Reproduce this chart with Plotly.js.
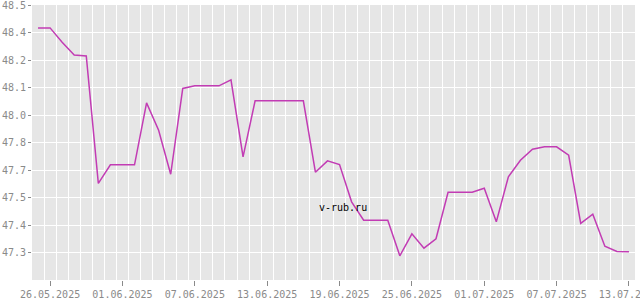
<!DOCTYPE html>
<html>
<head>
<meta charset="utf-8">
<script src="https://cdn.plot.ly/plotly-3.0.1.min.js"></script>
<style>
html,body{margin:0;padding:0;background:#fff;}
#chart{width:640px;height:300px;}
</style>
</head>
<body>
<div id="chart"></div>
<script>
// ---- data ----
var dates = [
  '2025-05-25','2025-05-26','2025-05-27','2025-05-28','2025-05-29','2025-05-30','2025-05-31',
  '2025-06-01','2025-06-02','2025-06-03','2025-06-04','2025-06-05','2025-06-06','2025-06-07',
  '2025-06-08','2025-06-09','2025-06-10','2025-06-11','2025-06-12','2025-06-13','2025-06-14',
  '2025-06-15','2025-06-16','2025-06-17','2025-06-18','2025-06-19','2025-06-20','2025-06-21',
  '2025-06-22','2025-06-23','2025-06-24','2025-06-25','2025-06-26','2025-06-27','2025-06-28',
  '2025-06-29','2025-06-30','2025-07-01','2025-07-02','2025-07-03','2025-07-04','2025-07-05',
  '2025-07-06','2025-07-07','2025-07-08','2025-07-09','2025-07-10','2025-07-11','2025-07-12',
  '2025-07-13'
];
var rates = [
  48.386, 48.386, 48.314, 48.250, 48.246, 47.608, 47.701,
  47.701, 47.701, 48.011, 47.874, 47.654, 48.083, 48.096,
  48.096, 48.096, 48.126, 47.741, 48.021, 48.021, 48.021,
  48.021, 48.021, 47.664, 47.721, 47.702, 47.516, 47.424,
  47.424, 47.424, 47.246, 47.356, 47.284, 47.331, 47.564,
  47.564, 47.564, 47.584, 47.416, 47.641, 47.724, 47.779,
  47.791, 47.791, 47.749, 47.408, 47.454, 47.294, 47.268,
  47.266
];
var xTickDates = ['2025-05-26','2025-06-01','2025-06-07','2025-06-13','2025-06-19','2025-06-25','2025-07-01','2025-07-07','2025-07-13'];
var xTickLabels = ['26.05.2025','01.06.2025','07.06.2025','13.06.2025','19.06.2025','25.06.2025','01.07.2025','07.07.2025','13.07.2025'];
var yTickLabels = ['48.5','48.4','48.2','48.1','48.0','47.8','47.7','47.5','47.4','47.3'];
var watermark = 'v-rub.ru';

// ---- layout helpers ----
var yTop = 48.5, yStep = 0.1375, yBottom = yTop - yStep * 10;
var yTickVals = yTickLabels.map(function(_, i){ return yTop - i * yStep; });

var font = {family: 'DejaVu Sans Mono, monospace', size: 10, color: '#8a8a8a'};

var trace = {
  x: dates, y: rates, type: 'scatter', mode: 'lines',
  line: {color: '#c23cb4', width: 1.5, shape: 'linear'},
  hoverinfo: 'skip'
};

var layout = {
  width: 640, height: 300,
  margin: {l: 32, r: 5, t: 5, b: 20, pad: 0},
  paper_bgcolor: '#ffffff',
  plot_bgcolor: '#e6e6e6',
  showlegend: false,
  font: font,
  xaxis: {
    type: 'date',
    range: ['2025-05-24 12:00', '2025-07-13 12:00'],
    tickmode: 'array', tickvals: xTickDates, ticktext: xTickLabels,
    showgrid: false, zeroline: false, showline: false,
    ticks: 'outside', ticklen: 5, tickwidth: 1, tickcolor: '#8a8a8a',
    tickfont: font, ticklabeloverflow: 'allow',
    minor: {tick0: '2025-05-24 12:00', dtick: 86400000, showgrid: true, gridcolor: '#ffffff', gridwidth: 1, ticks: ''},
    fixedrange: true
  },
  yaxis: {
    range: [yBottom, yTop + 0.0005],
    tickmode: 'array', tickvals: yTickVals, ticktext: yTickLabels,
    showgrid: true, gridcolor: '#ffffff', gridwidth: 1,
    zeroline: false, showline: false,
    ticks: 'outside', ticklen: 3, tickwidth: 1, tickcolor: '#8a8a8a',
    tickfont: font, ticklabeloverflow: 'allow',
    fixedrange: true
  },
  annotations: [{
    text: watermark, xref: 'paper', yref: 'paper',
    x: 0.516, y: 0.265, xanchor: 'center', yanchor: 'middle',
    showarrow: false,
    font: {family: 'DejaVu Sans Mono, monospace', size: 10, color: '#000000'}
  }]
};

Plotly.newPlot('chart', [trace], layout, {staticPlot: true, displayModeBar: false});
</script>
</body>
</html>
